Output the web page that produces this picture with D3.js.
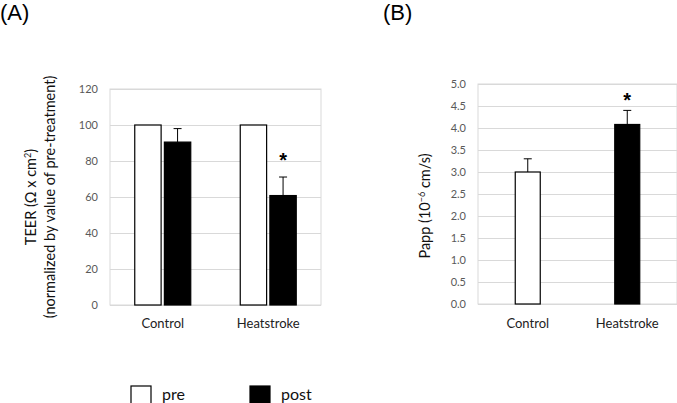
<!DOCTYPE html>
<html><head><meta charset="utf-8">
<script src="https://cdn.jsdelivr.net/npm/d3@7"></script>
<style>body{margin:0;background:#fff;} svg{display:block;font-family:Lato,"Open Sans",sans-serif;}</style>
</head><body>
<svg id="c" width="677" height="403"></svg>
<script>
const categories = ["Control", "Heatstroke"];
const seriesNames = ["pre", "post"];
const teerPre = [100, 100];
const teerPost = [90.5, 60.8];
const teerPostErr = [7.5, 10.3];
const teerTicks = [0, 20, 40, 60, 80, 100, 120];
const teerSig = [false, true];
const pappValues = [3.0, 4.08];
const pappErr = [0.3, 0.32];
const pappColors = ["#fff", "#000"];
const pappTicks = [0, 0.5, 1.0, 1.5, 2.0, 2.5, 3.0, 3.5, 4.0, 4.5, 5.0];
const pappSig = [false, true];

const svg = d3.select("#c");
const grid = "#d9d9d9", tickCol = "#595959";

// Panel labels
svg.append("text").attr("x", 0).attr("y", 20).attr("font-size", 22).attr("font-family","Liberation Sans, Arial").text("(A)");
svg.append("text").attr("x", 383).attr("y", 20).attr("font-size", 22).attr("font-family","Liberation Sans, Arial").text("(B)");

function frame(g, x0, x1, y, ticks, fmt) {
  g.append("rect").attr("x", x0).attr("y", y(ticks[ticks.length-1])).attr("width", x1 - x0)
    .attr("height", y(ticks[0]) - y(ticks[ticks.length-1])).attr("fill", "none").attr("stroke", grid);
  const ax = d3.axisLeft(y).tickValues(ticks).tickSize(-(x1 - x0)).tickPadding(12).tickFormat(fmt);
  const a = g.append("g").attr("transform", `translate(${x0},0)`).call(ax);
  a.select(".domain").remove();
  a.selectAll(".tick line").attr("stroke", grid);
  a.selectAll(".tick text").attr("fill", tickCol).attr("font-size", 11).attr("font-family", "Lato, sans-serif");
}

// Panel A
const gA = svg.append("g");
const xA = d3.scaleBand().domain(categories).range([110, 321]);
const xsA = d3.scaleBand().domain(seriesNames).range([0, 56]).paddingInner(0.11);
const yA = d3.scaleLinear().domain([0, 120]).range([305, 89]);
frame(gA, 110, 321, yA, teerTicks, d3.format("d"));
categories.forEach((c, i) => {
  const cx = xA(c) + xA.bandwidth() / 2 - 28;
  const vals = [teerPre[i], teerPost[i]];
  seriesNames.forEach((s, j) => {
    gA.append("rect").attr("x", cx + xsA(s)).attr("y", yA(vals[j])).attr("width", xsA.bandwidth())
      .attr("height", yA(0) - yA(vals[j])).attr("fill", j ? "#000" : "#fff").attr("stroke", "#000").attr("stroke-width", 1.2);
  });
  const ex = cx + xsA("post") + xsA.bandwidth() / 2;
  const top = yA(teerPost[i] + teerPostErr[i]);
  gA.append("line").attr("x1", ex).attr("x2", ex).attr("y1", yA(teerPost[i])).attr("y2", top).attr("stroke", "#000");
  gA.append("line").attr("x1", ex - 4).attr("x2", ex + 4).attr("y1", top).attr("y2", top).attr("stroke", "#000");
  if (teerSig[i]) gA.append("text").attr("x", ex).attr("y", top - 10).attr("text-anchor", "middle")
    .attr("font-size", 20).attr("font-weight", "bold").attr("font-family","Liberation Sans, Arial").text("*");
  gA.append("text").attr("x", xA(c) + xA.bandwidth() / 2).attr("y", 328).attr("text-anchor", "middle")
    .attr("font-size", 13).attr("fill", "#222").text(c);
});
const tA = gA.append("text").attr("transform", "translate(40,197) rotate(-90)").attr("text-anchor", "middle")
  .attr("font-size", 14.5).attr("fill", "#111").attr("font-family", "Lato, sans-serif");
const l1 = tA.append("tspan").attr("x", 0).attr("dy", "-0.25em").text("TEER (Ω x cm");
l1.append("tspan").attr("baseline-shift", "super").attr("font-size", 9).text("2");
tA.append("tspan").text(")");
tA.append("tspan").attr("x", 0).attr("dy", "1.3em").text("(normalized by value of pre-treatment)");

// Panel B
const gB = svg.append("g");
const xB = d3.scaleBand().domain(categories).range([478, 677]);
const yB = d3.scaleLinear().domain([0, 5]).range([304, 84]);
frame(gB, 478, 677, yB, pappTicks, d3.format(".1f"));
categories.forEach((c, i) => {
  const cx = xB(c) + xB.bandwidth() / 2;
  const w = 25;
  gB.append("rect").attr("x", cx - w / 2).attr("y", yB(pappValues[i])).attr("width", w)
    .attr("height", yB(0) - yB(pappValues[i])).attr("fill", pappColors[i]).attr("stroke", "#000").attr("stroke-width", 1.2);
  const top = yB(pappValues[i] + pappErr[i]);
  gB.append("line").attr("x1", cx).attr("x2", cx).attr("y1", yB(pappValues[i])).attr("y2", top).attr("stroke", "#000");
  gB.append("line").attr("x1", cx - 4).attr("x2", cx + 4).attr("y1", top).attr("y2", top).attr("stroke", "#000");
  if (pappSig[i]) gB.append("text").attr("x", cx).attr("y", top - 3).attr("text-anchor", "middle")
    .attr("font-size", 20).attr("font-weight", "bold").attr("font-family","Liberation Sans, Arial").text("*");
  gB.append("text").attr("x", cx).attr("y", 328).attr("text-anchor", "middle")
    .attr("font-size", 13).attr("fill", "#222").text(c);
});
const tB = gB.append("text").attr("transform", "translate(430,206) rotate(-90)").attr("text-anchor", "middle")
  .attr("font-size", 14.5).attr("fill", "#111");
tB.append("tspan").text("Papp (10");
tB.append("tspan").attr("baseline-shift", "super").attr("font-size", 9).text("−6");
tB.append("tspan").text(" cm/s)");

// Legend
const legX = [131, 250];
seriesNames.forEach((s, j) => {
  svg.append("rect").attr("x", legX[j]).attr("y", 386).attr("width", 20).attr("height", 20)
    .attr("fill", j ? "#000" : "#fff").attr("stroke", "#000").attr("stroke-width", 1.2);
  svg.append("text").attr("x", legX[j] + 31).attr("y", 400).attr("font-size", 16).attr("fill", "#111").text(s);
});
</script>
</body></html>
